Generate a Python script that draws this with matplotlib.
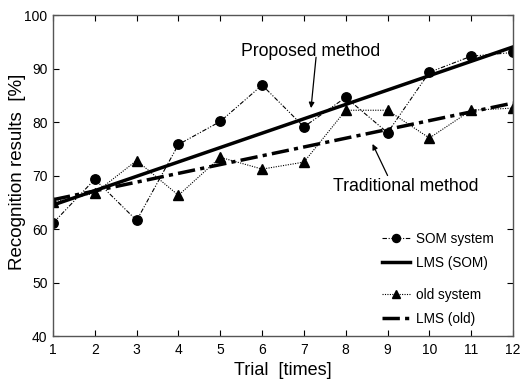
import numpy as np
import matplotlib
matplotlib.use("Agg")
import matplotlib.pyplot as plt

plt.rcParams['font.family'] = ['Liberation Sans', 'DejaVu Sans']

trials = [1, 2, 3, 4, 5, 6, 7, 8, 9, 10, 11, 12]
som_system = [61.1, 69.3, 61.6, 75.8, 80.1, 86.9, 79.1, 84.6, 78.0, 89.3, 92.3, 93.0]
old_system = [65.0, 66.7, 72.8, 66.3, 73.4, 71.2, 72.5, 82.2, 82.2, 77.0, 82.2, 82.6]

x = np.array(trials, dtype=float)
som_fit = np.polyval(np.polyfit(x, som_system, 1), x)
old_fit = np.polyval(np.polyfit(x, old_system, 1), x)

fig = plt.figure(figsize=(5.29, 3.82), dpi=100)
ax = fig.add_axes([0.1002, 0.1204, 0.8696, 0.8403])

l1, = ax.plot(x, som_system, color='black', lw=0.8, linestyle=(0, (4, 1.5, 1, 1.5, 1, 1.5)),
              marker='o', markersize=6.8, label='SOM system')
l2, = ax.plot(x, som_fit, color='black', lw=2.5, linestyle='-', label='LMS (SOM)')
l3, = ax.plot(x, old_system, color='black', lw=0.8, linestyle=(0, (1, 1.2)),
              marker='^', markersize=6.8, label='old system')
l4, = ax.plot(x, old_fit, color='black', lw=2.5, linestyle=(0, (5, 1.5, 1.2, 1.5)), label='LMS (old)')

ax.set_xlim(1, 12)
ax.set_ylim(40, 100)
ax.set_xticks(trials)
ax.set_yticks([40, 50, 60, 70, 80, 90, 100])
ax.tick_params(direction='in', top=True, right=True, labelsize=10, length=4, pad=4, colors='black')
ax.tick_params(axis='x', pad=5)
for s in ax.spines.values():
    s.set_color('#555555')
    s.set_linewidth(1.0)

ax.set_xlabel('Trial  [times]', fontsize=13, va='center')
ax.set_ylabel('Recognition results  [%]', fontsize=13.5, va='center')
ax.xaxis.set_label_coords(0.5, -0.106)
ax.yaxis.set_label_coords(-0.078, 0.51)

ax.text(7.15, 93.1, 'Proposed method', fontsize=12.7, ha='center', va='center')
ax.annotate('', xy=(7.17, 82.6), xytext=(7.29, 92.1),
            arrowprops=dict(arrowstyle='-|>', color='black', lw=0.9, mutation_scale=8,
                            shrinkA=0, shrinkB=0))
ax.text(9.44, 68.0, 'Traditional method', fontsize=12.7, ha='center', va='center')
ax.annotate('', xy=(8.64, 75.9), xytext=(9.0, 70.0),
            arrowprops=dict(arrowstyle='-|>', color='black', lw=0.9, mutation_scale=8,
                            shrinkA=0, shrinkB=0))

legkw = dict(frameon=False, fontsize=9.8, handlelength=2.0, handletextpad=0.45,
             labelspacing=0.75, borderpad=0, markerscale=0.85, borderaxespad=0)
leg1 = ax.legend(handles=[l1, l2], loc='upper left', bbox_to_anchor=(0.716, 0.324), **legkw)
ax.add_artist(leg1)
ax.legend(handles=[l3, l4], loc='upper left', bbox_to_anchor=(0.716, 0.15), **legkw)

fig.savefig('out.png', dpi=100)
